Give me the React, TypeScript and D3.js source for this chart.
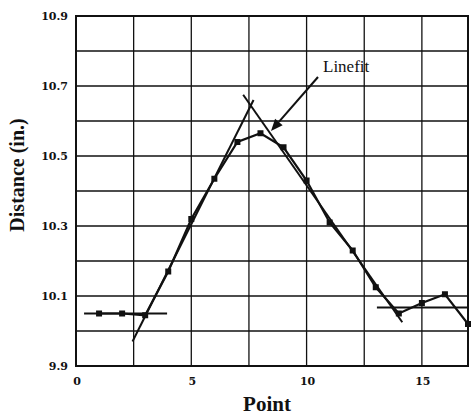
import React from "react";
import * as d3 from "d3";

// measured points
const pointIdx = [1, 2, 3, 4, 5, 6, 7, 8, 9, 10, 11, 12, 13, 14, 15, 16, 17];
const distance = [10.05, 10.05, 10.045, 10.17, 10.32, 10.435, 10.54, 10.565, 10.525, 10.43, 10.31, 10.23, 10.125, 10.05, 10.08, 10.105, 10.02];

// fitted segments [x1, y1, x2, y2]
const fitLines = [
  [0.35, 10.05, 3.95, 10.05],
  [2.45, 9.97, 7.7, 10.66],
  [7.25, 10.675, 14.15, 10.025],
  [13.05, 10.067, 17, 10.067],
];

const yTicks = [9.9, 10.1, 10.3, 10.5, 10.7, 10.9];
const xTicks = [0, 5, 10, 15];
const xGrid = [2.5, 5, 7.5, 10, 12.5, 15];
const yGrid = [10.0, 10.1, 10.2, 10.3, 10.4, 10.5, 10.6, 10.7, 10.8];

const serif = "'Liberation Serif', 'DejaVu Serif', serif";

export default function App() {
  const width = 471;
  const height = 415;
  const x = d3.scaleLinear().domain([0, 17]).range([76, 468]);
  const y = d3.scaleLinear().domain([9.9, 10.9]).range([366, 16]);

  const line = d3
    .line<number>()
    .x((_, i) => x(pointIdx[i]))
    .y((d) => y(d));

  // arrow from label toward the fit peak
  const ax1 = 318, ay1 = 77, ax2 = 271, ay2 = 131;
  const ang = Math.atan2(ay2 - ay1, ax2 - ax1);
  const hl = 12, hw = 5;
  const bx = ax2 - hl * Math.cos(ang), by = ay2 - hl * Math.sin(ang);
  const head = [
    [ax2, ay2],
    [bx + hw * Math.sin(ang), by - hw * Math.cos(ang)],
    [bx - hw * Math.sin(ang), by + hw * Math.cos(ang)],
  ].map((p) => p.join(",")).join(" ");

  return (
    <svg width={width} height={height} style={{ position: "absolute", left: 0, top: 0, background: "#fff" }}>
      <g stroke="#111" strokeWidth={1.3}>
        {xGrid.map((v) => (
          <line key={"gx" + v} x1={x(v)} x2={x(v)} y1={y(10.9)} y2={y(9.9)} />
        ))}
        {yGrid.map((v) => (
          <line key={"gy" + v} x1={x(0)} x2={x(17)} y1={y(v)} y2={y(v)} />
        ))}
      </g>
      <rect x={x(0)} y={y(10.9)} width={x(17) - x(0)} height={y(9.9) - y(10.9)} fill="none" stroke="#111" strokeWidth={2} />

      {fitLines.map((f, i) => (
        <line key={"f" + i} x1={x(f[0])} y1={y(f[1])} x2={x(f[2])} y2={y(f[3])} stroke="#111" strokeWidth={2} />
      ))}
      <path d={line(distance) || ""} fill="none" stroke="#111" strokeWidth={2.2} />
      {distance.map((d, i) => (
        <rect key={"m" + i} x={x(pointIdx[i]) - 3} y={y(d) - 3} width={6} height={6} fill="#111" />
      ))}

      <line x1={ax1} y1={ay1} x2={bx} y2={by} stroke="#111" strokeWidth={2} />
      <polygon points={head} fill="#111" />
      <text x={323} y={72} fontFamily={serif} fontSize={17} fill="#111">Linefit</text>

      {yTicks.map((v) => (
        <text key={"yt" + v} x={68} y={y(v)} dy="0.35em" textAnchor="end" fontFamily="'DejaVu Serif', serif" fontWeight="bold" fontSize={11} fill="#111">
          {v.toFixed(1)}
        </text>
      ))}
      {xTicks.map((v) => (
        <text key={"xt" + v} x={x(v) + 1} y={385} textAnchor="middle" fontFamily="'DejaVu Serif', serif" fontWeight="bold" fontSize={11} fill="#111">
          {v}
        </text>
      ))}
      <text x={267} y={411} textAnchor="middle" fontFamily={serif} fontWeight="bold" fontSize={21} fill="#111">Point</text>
      <text transform="translate(24,175) rotate(-90)" textAnchor="middle" fontFamily={serif} fontWeight="bold" fontSize={20} fill="#111">
        Distance (in.)
      </text>
    </svg>
  );
}
